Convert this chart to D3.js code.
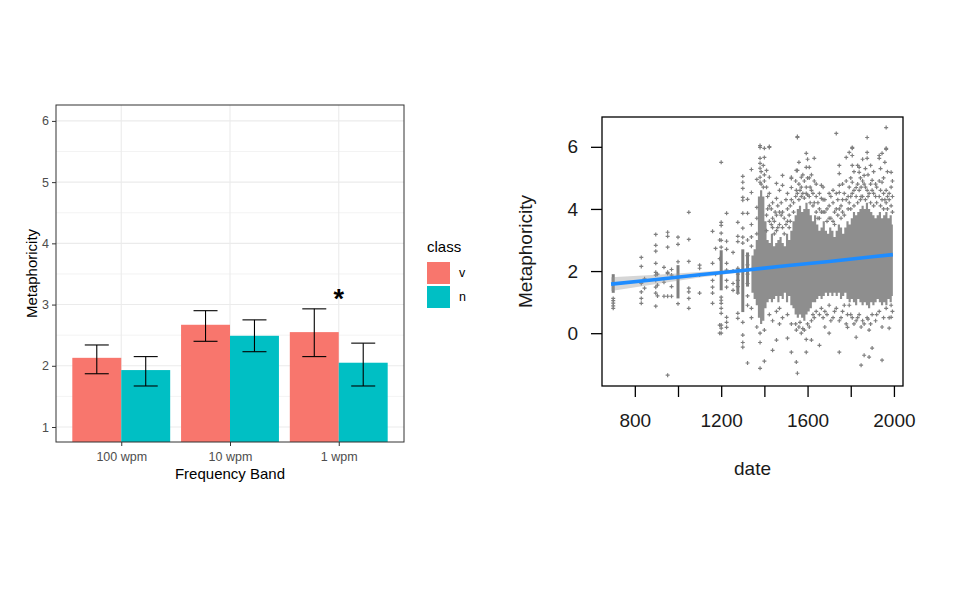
<!DOCTYPE html>
<html>
<head>
<meta charset="utf-8">
<script src="https://cdn.jsdelivr.net/npm/d3@7"></script>
<style>
  body { margin: 0; background: #fff; }
  svg { display: block; font-family: "Liberation Sans", Arial, sans-serif; }
</style>
</head>
<body>
<svg id="chart" width="954" height="612"></svg>
<script>
// ---------- left chart: bar means with error bars
const bands = ["100 wpm", "10 wpm", "1 wpm"];
const classes = ["v", "n"];
const meanV = [2.13, 2.67, 2.55];
const meanN = [1.93, 2.49, 2.05];
const lowV = [1.87, 2.40, 2.15];
const highV = [2.34, 2.90, 2.93];
const lowN = [1.67, 2.23, 1.67];
const highN = [2.15, 2.75, 2.37];
const yTicksLeft = [1, 2, 3, 4, 5, 6];
const yMinorLeft = [1.5, 2.5, 3.5, 4.5, 5.5];
const starMarks = [{band: "1 wpm", value: 3.19, label: "*"}];

// ---------- right chart: metaphoricity by date
const dateTicks = [800, 1000, 1200, 1400, 1600, 1800, 2000];
const dateLabels = ["800", "", "1200", "", "1600", "", "2000"];
const metTicks = [0, 2, 4, 6];

// single points, grouped by date: [date, [values]]
const pointCols = [
  [700, [1.05, 0.97, 0.8, 0.88, 1.12]],
  [830, [2.44, 2.15, 1.64, 1.6, 1.33, 1.12, 0.96]],
  [845, [1.75, 1.45]],
  [897, [3.18, 2.83, 2.64, 2.25, 1.96, 1.87, 1.7, 1.48, 1.29, 0.87]],
  [905, [1.9, 1.55, 1.2]],
  [935, [2.12, 1.64, 1.19]],
  [952, [3.25, 3.12, 2.77, 1.96, 1.92, 1.19, -1.35]],
  [970, [1.87, 1.19, 2.05, 1.5]],
  [1000, [3.09, 2.86, 2.3, 0.95]],
  [1050, [3.89, 3.02, 2.31, 1.45, 1.33, 1.12, 0.8]],
  [1100, [2.19, 2.09, 1.87, 1.29]],
  [1160, [3.28, 2.25, 1.7, 1.48, 1.29, 0.96]],
  [1174, [2.73, 1.9]],
  [1193, [0.26, 0.0, 3.0, 2.4]],
  [1200, [5.5, 3.57, 3.47, 3.22, 2.99, 2.77, 1.16, 1.06, 0.96, 0.8, 0.64, 0.26, 0.16, 0.0]],
  [1225, [3.86, 2.96, 2.7, 2.25, 2.03, 1.7, 1.48, 0.51, 0.35, 0.19]],
  [1255, [2.6, 1.6, 1.38, 2.0]],
  [1277, [3.57, 3.12, 2.95, 2.09, 1.9, 1.7, 1.5, 1.29, 0.64, 0.48]],
  [1300, [5.05, 4.86, 4.66, 4.37, 4.28, 3.86, 3.38, 3.09, 2.9, 0.35, -0.3, -0.06, -0.45]],
  [1322, [4.31, 3.86, 3.0, 2.5, 2.2, 1.9, 1.6, 1.2, 0.9, -0.96]],
  [1340, [5.27, 4.53, 3.5, 3.1, 2.8, 0.8, 0.5]],
  [1365, [4.95, 4.05, 3.7, 3.2, 0.2]],
  [1380, [6.04, 5.98, 5.63, 5.47, 5.31, 5.02, 4.86, -1.13, 0.0, -0.3]],
  [1385, [4.8, 5.2]],
  [1395, [4.7, 5.4]],
  [1400, [5.95, 5.66, 5.1, 4.9, -0.9, 0.1]],
  [1410, [5.24, 4.7, 3.3, 3.8]],
  [1415, [4.0, 4.4]],
  [1423, [6.01, 5.98, 5.02, 4.5, 4.1, 3.6, 0.6]],
  [1432, [3.5, 4.0]],
  [1438, [4.2, 3.7, 3.4, -0.55, 0.4]],
  [1446, [3.2, 3.6]],
  [1450, [3.9]],
  [1456, [4.82, 4.34, 3.8, 3.3, -0.22, 0.7]],
  [1462, [3.4, 4.1]],
  [1470, [4.6, 3.9, 3.5, 0.3, 0.8]],
  [1478, [3.8, 4.2]],
  [1484, [5.08, 4.76, 3.9, 3.4, 0.5]],
  [1492, [3.2, 3.7]],
  [1500, [3.5, 4.3]],
  [1507, [4.5, 4.0, 3.6, -0.16, 0.6]],
  [1515, [3.4, 3.8]],
  [1520, [3.6, 4.1]],
  [1525, [5.02, 4.98, 4.69, 4.3, -0.61, 0.3]],
  [1535, [3.9, 4.2]],
  [1545, [4.4, 4.9, 0.3]],
  [1548, [5.24, 4.6, -0.93, 0.1]],
  [1553, [6.33, 6.30, 5.24, 4.5, -1.29]],
  [1560, [4.3, 4.8, 5.5, 0.2]],
  [1565, [4.6, 0.35]],
  [1571, [5.02, 4.7, 4.4, 0.0]],
  [1578, [4.5, 5.1, 0.15]],
  [1585, [4.35, 4.9, 0.1]],
  [1594, [5.79, 5.34, 4.7, 4.5, -0.61, -0.2]],
  [1600, [4.45, 5.0, 5.6, 0.3]],
  [1608, [5.34, 5.0, 4.4, 0.2]],
  [1612, [4.2, 4.7]],
  [1618, [5.1, 4.6, -0.22, 0.4]],
  [1625, [4.1, 4.5, 0.6]],
  [1631, [5.63, 4.9, 4.2, 0.5]],
  [1640, [3.9, 4.4, 4.8, 0.7]],
  [1648, [3.7, 4.2]],
  [1655, [4.5, 4.0, 3.7, -0.39, 0.6]],
  [1664, [4.76, 4.34, 3.9, 0.8]],
  [1672, [3.9, 4.3, 4.7, 0.5]],
  [1680, [4.3, 3.9, 0.7, 0.2]],
  [1690, [3.6, 4.0, 0.6]],
  [1700, [4.5, 4.1, 3.7, 0.0, 0.9]],
  [1708, [3.7, 4.4, 0.4]],
  [1718, [4.6, 4.2, 3.6, 0.5]],
  [1725, [3.5, 3.9, 0.7]],
  [1733, [6.43, 4.5, 4.0, 0.8]],
  [1740, [3.8, 4.3]],
  [1747, [5.40, 5.14, 4.76, 4.53, 4.0, -0.61, 0.4]],
  [1755, [3.7, 4.1, 0.5]],
  [1762, [4.8, 4.3, 3.9, 0.7]],
  [1770, [3.8, 4.5, 0.9]],
  [1779, [5.66, 4.9, 4.3, 0.3]],
  [1785, [0.19, 0.6]],
  [1788, [4.0, 4.4]],
  [1793, [5.82, 4.7, 4.2, 0.9]],
  [1800, [4.0, 4.4, 5.0, 0.6]],
  [1807, [5.98, 5.95, 5.72, 5.40, 4.86, 4.5, 0.5]],
  [1815, [4.1, 4.6, 5.2, 0.3]],
  [1825, [4.69, 4.4, -0.13, 0.4]],
  [1832, [4.2, 4.8, 5.4, 0.5]],
  [1839, [5.34, 5.18, 4.6, 0.6]],
  [1845, [4.3, 5.0]],
  [1848, [4.7, 4.4, -1.03, 0.2]],
  [1855, [4.4, 4.9, 5.6, 0.4]],
  [1862, [5.08, 4.8, -0.71, 0.3]],
  [1868, [4.3, 4.7, 5.3]],
  [1876, [6.30, 5.82, 5.63, 4.6, 0.5]],
  [1880, [4.4, 5.1, 0.45]],
  [1885, [4.5, -0.77, 0.1]],
  [1892, [4.2, 4.8, 5.4, 0.3]],
  [1899, [4.92, 4.6, -0.48, 0.6]],
  [1906, [4.1, 4.5, 5.2]],
  [1915, [4.8, 4.4, 0.4]],
  [1920, [4.2, 4.7, 0.6]],
  [1932, [5.72, 5.63, 4.9, 4.4, 0.7]],
  [1938, [4.1, 4.6, 5.3]],
  [1945, [5.79, 4.86, 4.3, -0.87, 0.2]],
  [1952, [4.0, 4.5, 5.0, 0.5]],
  [1958, [4.3, 5.5]],
  [1964, [6.62, 5.95, 5.92, 4.6, 4.2, 0.8]],
  [1970, [4.0, 4.4, 5.2]],
  [1978, [4.5, 4.3, 0.16, 0.5]],
  [1987, [5.18, 4.7, 4.1, 0.51, 0.9]],
  [1993, [3.9, 4.4, 4.9, 0.7]]
];

// runs of overlapping points at one date: [date, low, high]
const stripes = [
  [700, 1.3, 1.9], [1000, 1.12, 2.19], [1200, 1.38, 2.67],
  [1277, 1.3, 2.1], [1300, 0.68, 2.7], [1322, 1.5, 2.6]
];

// dense overlapping mass, per decade: [decade start, low, high]
const massCols = [
  [1340, 1.3, 2.5], [1350, 1.1, 2.7], [1360, 0.9, 3.0], [1370, 0.5, 4.4],
  [1380, 0.3, 4.6], [1390, 0.4, 4.4], [1400, 0.8, 3.6], [1410, 1.0, 3.0],
  [1420, 1.1, 2.9], [1430, 1.0, 3.2], [1440, 1.1, 2.8], [1450, 1.2, 2.9],
  [1460, 1.0, 3.0], [1470, 1.2, 3.1], [1480, 1.1, 2.9], [1490, 1.3, 2.8],
  [1500, 1.0, 3.2], [1510, 1.2, 3.0], [1520, 0.9, 3.3], [1530, 0.8, 3.6],
  [1540, 0.6, 3.8], [1550, 0.5, 4.0], [1560, 0.6, 4.1], [1570, 0.5, 3.9],
  [1580, 0.4, 4.0], [1590, 0.6, 4.2], [1600, 0.7, 4.0], [1610, 0.8, 3.8],
  [1620, 1.0, 3.6], [1630, 1.0, 3.8], [1640, 1.1, 3.5], [1650, 1.2, 3.3],
  [1660, 1.1, 3.4], [1670, 1.2, 3.6], [1680, 1.3, 3.3], [1690, 1.2, 3.2],
  [1700, 1.3, 3.4], [1710, 1.2, 3.3], [1720, 1.3, 3.1], [1730, 1.2, 3.3],
  [1740, 1.3, 3.5], [1750, 1.1, 3.4], [1760, 1.2, 3.2], [1770, 1.3, 3.4],
  [1780, 1.1, 3.6], [1790, 1.0, 3.5], [1800, 1.1, 3.7], [1810, 1.0, 3.9],
  [1820, 0.9, 3.8], [1830, 1.1, 3.9], [1840, 1.0, 4.0], [1850, 0.9, 4.1],
  [1860, 1.0, 4.0], [1870, 0.9, 4.2], [1880, 0.8, 4.0], [1890, 1.0, 3.9],
  [1900, 0.9, 3.8], [1910, 1.0, 3.7], [1920, 1.1, 3.8], [1930, 1.0, 3.9],
  [1940, 0.9, 3.7], [1950, 1.0, 3.8], [1960, 0.9, 3.9], [1970, 1.1, 3.7],
  [1980, 1.0, 3.8], [1990, 1.2, 3.5], [1995, 1.2, 3.5]
];

// linear fit and its confidence band
const fitDates = [690, 900, 1100, 1300, 1500, 1700, 1900, 1995];
const fitVals = [1.58, 1.73, 1.88, 2.02, 2.17, 2.31, 2.46, 2.53];
const fitLow = [1.36, 1.58, 1.79, 1.97, 2.13, 2.27, 2.42, 2.47];
const fitHigh = [1.80, 1.88, 1.97, 2.07, 2.21, 2.35, 2.50, 2.59];

const svg = d3.select("#chart");

// ================= left chart =================
const L = {left: 56, right: 404, top: 105, bottom: 442};
const xL = d3.scalePoint().domain(bands).range([L.left, L.right]).padding(0.6);
const step = xL.step();
const xSub = d3.scaleBand().domain(classes).range([-0.45 * step, 0.45 * step]);
const yL = d3.scaleLinear().domain([0.755, 6.26]).range([L.bottom, L.top]);
const fill = d3.scaleOrdinal().domain(classes).range(["#F8766D", "#00BFC4"]);

svg.append("defs").append("clipPath").attr("id", "clipL")
  .append("rect").attr("x", L.left).attr("y", L.top)
  .attr("width", L.right - L.left).attr("height", L.bottom - L.top);

const gl = svg.append("g");
// grid
gl.selectAll(".minor").data(yMinorLeft).join("line")
  .attr("x1", L.left).attr("x2", L.right)
  .attr("y1", d => yL(d)).attr("y2", d => yL(d))
  .attr("stroke", "#ebebeb").attr("stroke-width", 0.6);
gl.selectAll(".majorY").data(yTicksLeft).join("line")
  .attr("x1", L.left).attr("x2", L.right)
  .attr("y1", d => yL(d)).attr("y2", d => yL(d))
  .attr("stroke", "#ebebeb").attr("stroke-width", 1.1);
gl.selectAll(".majorX").data(bands).join("line")
  .attr("x1", d => xL(d)).attr("x2", d => xL(d))
  .attr("y1", L.top).attr("y2", L.bottom)
  .attr("stroke", "#ebebeb").attr("stroke-width", 1.1);

// bars
const barData = [];
bands.forEach((b, i) => {
  barData.push({band: b, cls: "v", mean: meanV[i], lo: lowV[i], hi: highV[i]});
  barData.push({band: b, cls: "n", mean: meanN[i], lo: lowN[i], hi: highN[i]});
});
const barsG = gl.append("g").attr("clip-path", "url(#clipL)");
barsG.selectAll("rect").data(barData).join("rect")
  .attr("x", d => xL(d.band) + xSub(d.cls))
  .attr("width", xSub.bandwidth())
  .attr("y", d => yL(d.mean))
  .attr("height", d => yL(0) - yL(d.mean))
  .attr("fill", d => fill(d.cls));

// error bars
const capHalf = 12;
const eb = gl.selectAll(".eb").data(barData).join("g")
  .attr("transform", d => `translate(${xL(d.band) + xSub(d.cls) + xSub.bandwidth() / 2},0)`);
eb.append("line").attr("y1", d => yL(d.lo)).attr("y2", d => yL(d.hi))
  .attr("stroke", "#000").attr("stroke-width", 1.1);
eb.append("line").attr("x1", -capHalf).attr("x2", capHalf)
  .attr("y1", d => yL(d.hi)).attr("y2", d => yL(d.hi))
  .attr("stroke", "#000").attr("stroke-width", 1.1);
eb.append("line").attr("x1", -capHalf).attr("x2", capHalf)
  .attr("y1", d => yL(d.lo)).attr("y2", d => yL(d.lo))
  .attr("stroke", "#000").attr("stroke-width", 1.1);

// significance star
gl.selectAll(".star").data(starMarks).join("text")
  .attr("x", d => xL(d.band)).attr("y", d => yL(d.value))
  .attr("dy", "0.56em").attr("text-anchor", "middle")
  .attr("font-size", 27).attr("font-weight", "bold").attr("fill", "#000")
  .text(d => d.label);

// panel border
gl.append("rect").attr("x", L.left).attr("y", L.top)
  .attr("width", L.right - L.left).attr("height", L.bottom - L.top)
  .attr("fill", "none").attr("stroke", "#333").attr("stroke-width", 1);

// axes
const axL = gl.append("g").attr("transform", `translate(${L.left},0)`)
  .call(d3.axisLeft(yL).tickValues(yTicksLeft).tickFormat(d3.format("d")).tickSize(4).tickPadding(3));
const axB = gl.append("g").attr("transform", `translate(0,${L.bottom})`)
  .call(d3.axisBottom(xL).tickSize(4).tickPadding(6));
[axL, axB].forEach(a => {
  a.select(".domain").remove();
  a.selectAll(".tick line").attr("stroke", "#333");
  a.selectAll("text").attr("fill", "#4d4d4d").attr("font-size", 12.5)
    .attr("font-family", "Liberation Sans, Arial, sans-serif");
});

gl.append("text").attr("x", (L.left + L.right) / 2).attr("y", 479)
  .attr("text-anchor", "middle").attr("font-size", 15).attr("fill", "#000")
  .text("Frequency Band");
gl.append("text").attr("transform", `translate(37,${(L.top + L.bottom) / 2}) rotate(-90)`)
  .attr("text-anchor", "middle").attr("font-size", 15).attr("fill", "#000")
  .text("Metaphoricity");

// legend
const lg = svg.append("g").attr("transform", "translate(427,0)");
lg.append("text").attr("x", 0).attr("y", 252).attr("font-size", 15).attr("fill", "#000").text("class");
const keys = lg.selectAll(".key").data(classes).join("g")
  .attr("transform", (d, i) => `translate(0,${262 + i * 24})`);
keys.append("rect").attr("width", 23).attr("height", 22).attr("fill", d => fill(d));
keys.append("text").attr("x", 32).attr("y", 11).attr("dy", "0.35em")
  .attr("font-size", 12.5).attr("fill", "#000").text(d => d);

// ================= right chart =================
const R = {left: 602, right: 903, top: 117, bottom: 386};
const xR = d3.scaleLinear().domain([648, 2042]).range([R.left, R.right]);
const yR = d3.scaleLinear().domain([-1.70, 6.96]).range([R.bottom, R.top]);

svg.select("defs").append("clipPath").attr("id", "clipR")
  .append("rect").attr("x", R.left).attr("y", R.top)
  .attr("width", R.right - R.left).attr("height", R.bottom - R.top);

const gr = svg.append("g");
const plot = gr.append("g").attr("clip-path", "url(#clipR)");
const pointGray = "#7f7f7f";

// dense mass as one stepped area so decades join without seams
plot.append("path").datum(massCols)
  .attr("d", d3.area().curve(d3.curveStepAfter)
    .x(d => xR(d[0])).y0(d => yR(d[1])).y1(d => yR(d[2])))
  .attr("fill", "#8e8e8e");

plot.selectAll(".stripe").data(stripes).join("rect")
  .attr("x", d => xR(d[0]) - 1.5)
  .attr("width", 3)
  .attr("y", d => yR(d[2]))
  .attr("height", d => yR(d[1]) - yR(d[2]))
  .attr("fill", pointGray);

const pts = pointCols.flatMap(([date, vals]) => vals.map(v => [date, v]));
plot.selectAll(".pt").data(pts).join("path")
  .attr("transform", d => `translate(${xR(d[0])},${yR(d[1])})`)
  .attr("d", "M-2,0H2M0,-2V2")
  .attr("stroke", pointGray).attr("stroke-width", 1.2).attr("fill", "none");

// fit band and line
const fitRows = fitDates.map((d, i) => ({date: d, fit: fitVals[i], lo: fitLow[i], hi: fitHigh[i]}));
plot.append("path").datum(fitRows)
  .attr("d", d3.area().x(d => xR(d.date)).y0(d => yR(d.lo)).y1(d => yR(d.hi)))
  .attr("fill", "#999999").attr("fill-opacity", 0.4);
plot.append("path").datum(fitRows)
  .attr("d", d3.line().x(d => xR(d.date)).y(d => yR(d.fit)))
  .attr("fill", "none").attr("stroke", "#1e8cff").attr("stroke-width", 3.6);

gr.append("rect").attr("x", R.left).attr("y", R.top)
  .attr("width", R.right - R.left).attr("height", R.bottom - R.top)
  .attr("fill", "none").attr("stroke", "#000").attr("stroke-width", 1.3);

const axRB = gr.append("g").attr("transform", `translate(0,${R.bottom})`)
  .call(d3.axisBottom(xR).tickValues(dateTicks).tickFormat((d, i) => dateLabels[i])
    .tickSize(11).tickPadding(17));
const axRL = gr.append("g").attr("transform", `translate(${R.left},0)`)
  .call(d3.axisLeft(yR).tickValues(metTicks).tickFormat(d3.format("d"))
    .tickSize(11).tickPadding(13));
[axRB, axRL].forEach(a => {
  a.select(".domain").remove();
  a.selectAll(".tick line").attr("stroke", "#000").attr("stroke-width", 1.3);
  a.selectAll("text").attr("fill", "#1a1a1a").attr("font-size", 19)
    .attr("font-family", "Liberation Sans, Arial, sans-serif");
});

gr.append("text").attr("x", (R.left + R.right) / 2).attr("y", 475)
  .attr("text-anchor", "middle").attr("font-size", 19).attr("fill", "#1a1a1a")
  .text("date");
gr.append("text").attr("transform", `translate(532,${(R.top + R.bottom) / 2}) rotate(-90)`)
  .attr("text-anchor", "middle").attr("font-size", 19).attr("fill", "#1a1a1a")
  .text("Metaphoricity");
</script>
</body>
</html>
